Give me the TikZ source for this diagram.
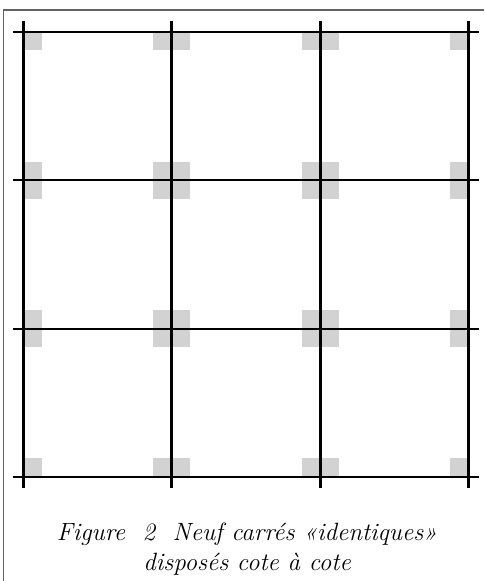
\documentclass[tikz,border=0pt]{standalone}
\usetikzlibrary{calc}
\definecolor{sqgray}{RGB}{210,210,210}
\definecolor{framegray}{RGB}{100,100,100}
\tikzset{
  vline/.style={line width=1.5pt, black},
  hline/.style={line width=1.1pt, black},
  framebar/.style={line width=0.9pt, framegray},
  corner/.style={fill=sqgray},
  captiontext/.style={font=\fontsize{12.5}{15}\selectfont\itshape, align=center, inner sep=0pt}
}
\begin{document}
\begin{tikzpicture}[x=0.5pt,y=-0.5pt]
\useasboundingbox (0,0) rectangle (484,581);
% frame (top and left edges visible)
\draw[framebar] (3.5,581) -- (3.5,10) -- (484,10);
% gray corner squares
\begin{scope}
  \clip (23.5,32) rectangle (468.4,476.8);
  \foreach \xx in {23.5,171.8,320.1,468.4}{
    \foreach \yy in {32,180.4,328.8,476.8}{
      \fill[corner] (\xx-18.5,\yy-18.5) rectangle (\xx+18.5,\yy+18.5);
    }
  }
\end{scope}
% horizontal lines
\foreach \yy in {32,180.4,328.8,476.8}{
  \draw[hline] (13,\yy) -- (479,\yy);
}
% vertical lines
\foreach \xx in {23.5,171.8,320.1,468.4}{
  \draw[vline] (\xx,21) -- (\xx,488);
}
% caption
\node[captiontext, anchor=base] (cap) at (247,570)
  {Figure\ \ 2\ \ Neuf carrés «identiques»\\disposés cote à cote};
\end{tikzpicture}
\end{document}
